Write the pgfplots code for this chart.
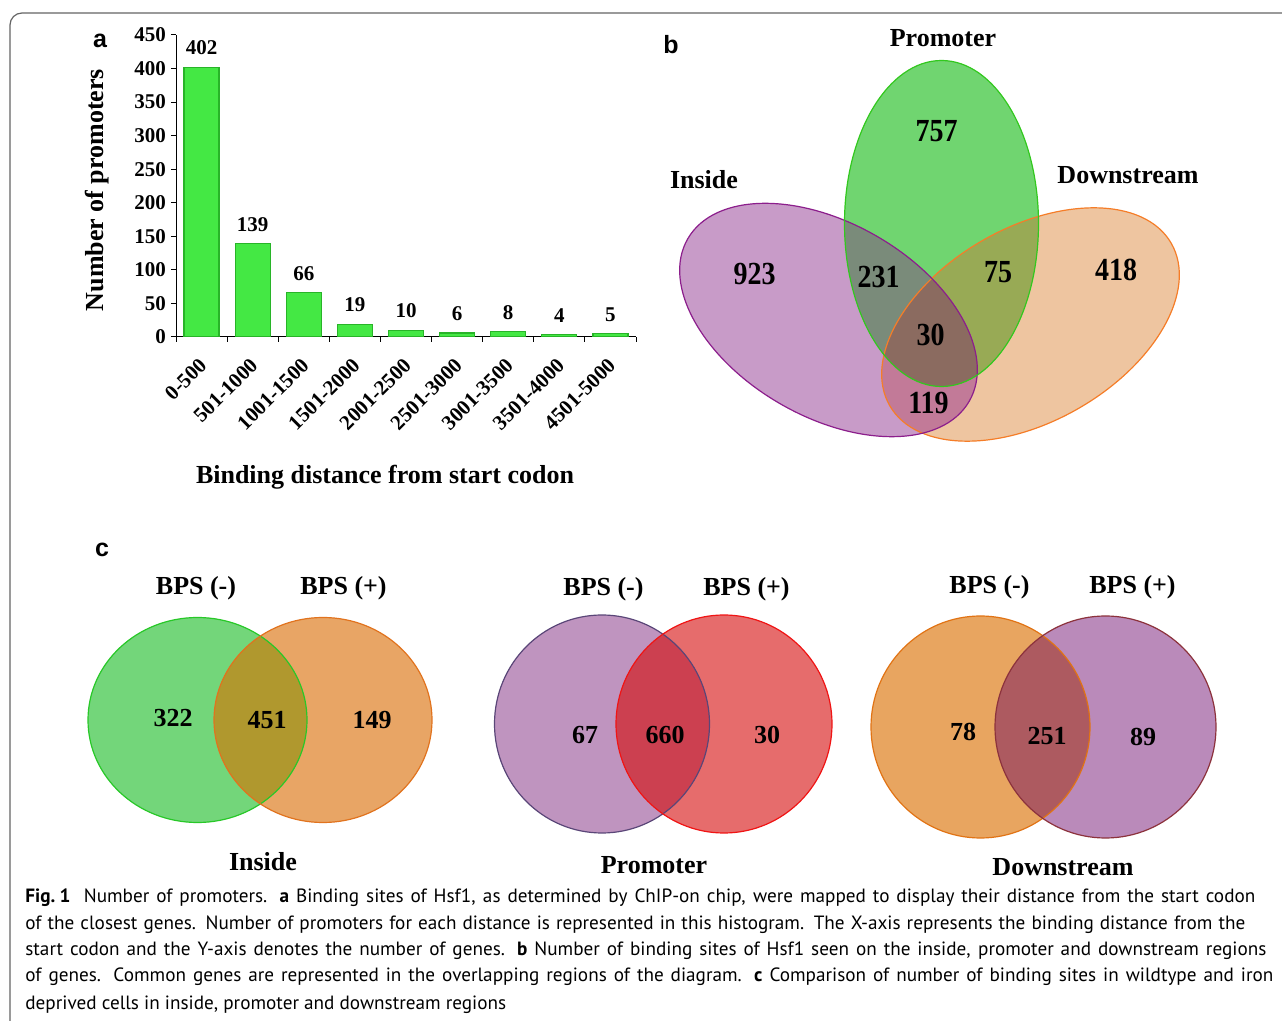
\documentclass[border=0pt]{standalone}
\usepackage{fontspec}
\setmainfont{Liberation Serif}
\newfontfamily\capfont{PT Sans}
\newfontfamily\lblfont{Liberation Sans}
\usepackage{pgfplots}
\pgfplotsset{compat=1.18}

% panel b colours
\definecolor{bP}{RGB}{200,155,200}
\definecolor{bG}{RGB}{112,213,112}
\definecolor{bO}{RGB}{238,197,160}
\definecolor{bPG}{RGB}{122,139,122}
\definecolor{bGO}{RGB}{152,170,85}
\definecolor{bPO}{RGB}{194,122,152}
\definecolor{bPGO}{RGB}{139,107,96}
\definecolor{bPd}{RGB}{140,30,140}
\definecolor{bGd}{RGB}{50,200,30}
\definecolor{bOd}{RGB}{245,125,40}
% panel c colours
\definecolor{cG}{RGB}{115,214,122}
\definecolor{cO}{RGB}{232,165,101}
\definecolor{cGO}{RGB}{176,152,46}
\definecolor{cGd}{RGB}{40,200,40}
\definecolor{cOd}{RGB}{225,115,30}
\definecolor{cP}{RGB}{191,148,191}
\definecolor{cR}{RGB}{230,108,108}
\definecolor{cPR}{RGB}{204,64,80}
\definecolor{cPd}{RGB}{90,70,120}
\definecolor{cRd}{RGB}{240,20,20}
\definecolor{cO2}{RGB}{232,165,96}
\definecolor{cP2}{RGB}{186,138,186}
\definecolor{cOP}{RGB}{173,90,96}
\definecolor{cO2d}{RGB}{225,115,20}
\definecolor{cP2d}{RGB}{140,50,60}
% bars
\definecolor{barG}{RGB}{68,232,68}
\definecolor{barE}{RGB}{40,180,40}
\definecolor{frameC}{RGB}{100,100,100}

\def\EP{(axis cs:828.5,320) ellipse [x radius=81.25pt, y radius=48.35pt, rotate=-30]}
\def\EG{(axis cs:941.5,223.5) ellipse [x radius=48.5pt, y radius=81.5pt]}
\def\EO{(axis cs:1030.5,324.5) ellipse [x radius=81.25pt, y radius=48.35pt, rotate=30]}

\def\CIa{(axis cs:197.5,720) ellipse [x radius=54.75pt, y radius=51.25pt]}
\def\CIb{(axis cs:323,720) ellipse [x radius=54.5pt, y radius=51.25pt]}
\def\CPa{(axis cs:602,724) ellipse [x radius=53.75pt, y radius=54.5pt]}
\def\CPb{(axis cs:724,724) ellipse [x radius=54pt, y radius=54.5pt]}
\def\CDa{(axis cs:980.5,727) ellipse [x radius=54.75pt, y radius=55.5pt]}
\def\CDb{(axis cs:1105.5,727) ellipse [x radius=55.25pt, y radius=55.5pt]}

\newcommand{\tb}[1]{\fontsize{#1}{#1}\selectfont\bfseries}

\begin{document}
\begin{tikzpicture}
\begin{axis}[
  at={(0,0)}, anchor=south west,
  width=641pt, height=510.5pt, scale only axis,
  xmin=0, xmax=1282, ymin=0, ymax=1021, y dir=reverse,
  hide axis, clip=false,
]
% frame
\draw[frameC, line width=0.6pt, rounded corners=6pt]
  (axis cs:1282,13) -- (axis cs:10,13) -- (axis cs:10,1021);

% ---------- panel a labels ----------
\node[font=\lblfont\tb{12.5}] at (axis cs:100,41) {a};
\node[font=\tb{13}, rotate=90] at (axis cs:97,190) {Number of promoters};
\node[font=\tb{13}] at (axis cs:385,477) {Binding distance from start codon};

% ---------- panel b ----------
\node[font=\lblfont\tb{12.5}] at (axis cs:671,45) {b};
\fill[bP] \EP;
\fill[bG] \EG;
\fill[bO] \EO;
\begin{scope}\clip \EP; \fill[bPG] \EG; \end{scope}
\begin{scope}\clip \EG; \fill[bGO] \EO; \end{scope}
\begin{scope}\clip \EP; \fill[bPO] \EO; \end{scope}
\begin{scope}\clip \EP; \clip \EG; \fill[bPGO] \EO; \end{scope}
\draw[bOd, line width=0.6pt] \EO;
\draw[bPd, line width=0.6pt] \EP;
\draw[bGd, line width=0.6pt] \EG;
\node[font=\tb{13}] at (axis cs:943,38) {Promoter};
\node[font=\tb{13}] at (axis cs:704,180) {Inside};
\node[font=\tb{13}] at (axis cs:1128,175) {Downstream};
\node[font=\tb{14}] at (axis cs:936.5,131) {\scalebox{1}[1.15]{757}};
\node[font=\tb{14}] at (axis cs:754.5,274) {\scalebox{1}[1.15]{923}};
\node[font=\tb{14}] at (axis cs:878.5,277) {\scalebox{1}[1.15]{231}};
\node[font=\tb{14}] at (axis cs:998,272) {\scalebox{1}[1.15]{75}};
\node[font=\tb{14}] at (axis cs:1116,270) {\scalebox{1}[1.15]{418}};
\node[font=\tb{14}] at (axis cs:930.5,335) {\scalebox{1}[1.15]{30}};
\node[font=\tb{14}] at (axis cs:928.5,403) {\scalebox{1}[1.15]{119}};

% ---------- panel c ----------
\node[font=\lblfont\tb{12.5}] at (axis cs:102,550) {c};
% Inside
\fill[cG] \CIa; \fill[cO] \CIb;
\begin{scope}\clip \CIa; \fill[cGO] \CIb; \end{scope}
\draw[cGd, line width=0.6pt] \CIa; \draw[cOd, line width=0.6pt] \CIb;
% Promoter
\fill[cP] \CPa; \fill[cR] \CPb;
\begin{scope}\clip \CPa; \fill[cPR] \CPb; \end{scope}
\draw[cPd, line width=0.6pt] \CPa; \draw[cRd, line width=0.6pt] \CPb;
% Downstream
\fill[cO2] \CDa; \fill[cP2] \CDb;
\begin{scope}\clip \CDa; \fill[cOP] \CDb; \end{scope}
\draw[cO2d, line width=0.6pt] \CDa; \draw[cP2d, line width=0.6pt] \CDb;

\node[font=\tb{13}] at (axis cs:196,588) {BPS (-)};
\node[font=\tb{13}] at (axis cs:343.5,588) {BPS (+)};
\node[font=\tb{13}] at (axis cs:173,718) {322};
\node[font=\tb{13}] at (axis cs:267,720) {451};
\node[font=\tb{13}] at (axis cs:372,720) {149};
\node[font=\tb{13}] at (axis cs:263,862) {Inside};

\node[font=\tb{13}] at (axis cs:603.5,589) {BPS (-)};
\node[font=\tb{13}] at (axis cs:746.5,589) {BPS (+)};
\node[font=\tb{13}] at (axis cs:585,735) {67};
\node[font=\tb{13}] at (axis cs:665,735) {660};
\node[font=\tb{13}] at (axis cs:767,735) {30};
\node[font=\tb{13}] at (axis cs:654,865) {Promoter};

\node[font=\tb{13}] at (axis cs:989.5,587) {BPS (-)};
\node[font=\tb{13}] at (axis cs:1132.5,587) {BPS (+)};
\node[font=\tb{13}] at (axis cs:963,732) {78};
\node[font=\tb{13}] at (axis cs:1047,736) {251};
\node[font=\tb{13}] at (axis cs:1143,737) {89};
\node[font=\tb{13}] at (axis cs:1063,867) {Downstream};

% ---------- caption ----------
\tikzset{capline/.style={anchor=base west, inner sep=0pt, font=\capfont\fontsize{9.6}{12}\selectfont}}
\node[capline] at (axis cs:25,903) {\makebox[615pt][s]{\textbf{Fig.\hspace{0.22em}1}\hspace{0.7em}Number of promoters. \textbf{a} Binding sites of Hsf1, as determined by ChIP-on chip, were mapped to display their distance from the start codon}};
\node[capline] at (axis cs:25,930) {\makebox[610pt][s]{of the closest genes. Number of promoters for each distance is represented in this histogram. The X-axis represents the binding distance from the}};
\node[capline] at (axis cs:25,956) {\makebox[620.5pt][s]{start codon and the Y-axis denotes the number of genes. \textbf{b} Number of binding sites of Hsf1 seen on the inside, promoter and downstream regions}};
\node[capline] at (axis cs:25,982) {\makebox[624pt][s]{of genes. Common genes are represented in the overlapping regions of the diagram. \textbf{c} Comparison of number of binding sites in wildtype and iron}};
\node[capline] at (axis cs:25,1009) {deprived cells in inside, promoter and downstream regions};
\end{axis}

% ---------- panel a: bar chart ----------
\begin{axis}[
  at={(88pt,342pt)}, anchor=south west,
  width=230pt, height=151pt, scale only axis,
  xmin=-0.5, xmax=8.5, ymin=0, ymax=450,
  axis x line*=bottom, axis y line*=left,
  axis line style={-, black, line width=0.5pt},
  ytick={0,50,...,450},
  tick align=outside, major tick length=2.5pt,
  tick style={black, line width=0.5pt},
  xtick={-0.5,0.5,...,8.5}, xticklabels={},
  extra x ticks={0,1,...,8},
  extra x tick labels={0-500,501-1000,1001-1500,1501-2000,2001-2500,2501-3000,3001-3500,3501-4000,4501-5000},
  extra x tick style={major tick length=0pt, tick style={draw=none}},
  x tick label style={rotate=45, anchor=north east, font=\tb{10.5}, xshift=-4.8pt, yshift=-2.2pt},
  y tick label style={font=\tb{10.5}, xshift=1pt},
  /pgf/number format/assume math mode=true,
  ybar, bar width=17.5pt,
  nodes near coords,
  nodes near coords style={font=\tb{10.5}, text=black, yshift=2.5pt},
]
\addplot[fill=barG, draw=barE, line width=0.6pt] coordinates {
  (0,402) (1,139) (2,66) (3,19) (4,10) (5,6) (6,8) (7,4) (8,5)};
\end{axis}
\pgfresetboundingbox
\path[use as bounding box] (0,0) rectangle (641pt,510.5pt);
\end{tikzpicture}
\end{document}
